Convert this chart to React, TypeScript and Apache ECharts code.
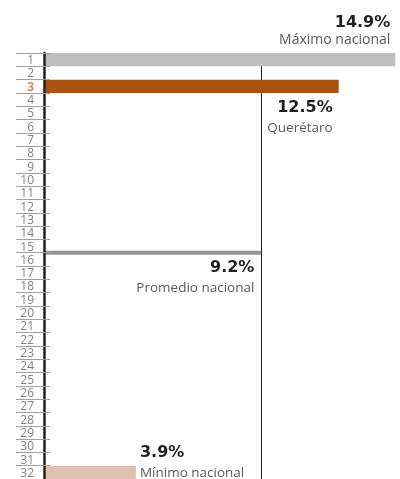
import React, { useEffect, useRef } from "react";
import * as echarts from "echarts";

const categories: string[] = Array.from({ length: 32 }, (_, i) => String(i + 1));
const highlightCategory = "3";
const maxValue = 14.9;
const maxLabel = "Máximo nacional";
const stateValue = 12.5;
const stateLabel = "Querétaro";
const avgValue = 9.2;
const avgLabel = "Promedio nacional";
const minValue = 3.9;
const minLabel = "Mínimo nacional";
const maxRank = "1";
const stateRank = "3";
const minRank = "32";
const avgBoundary = 15.5; // between rank 15 and 16

const FONT = "'Open Sans', 'Noto Sans', sans-serif";
const BOLD_FONT = "'DejaVu Sans', 'Open Sans', sans-serif";

export default function App() {
  const ref = useRef<HTMLDivElement>(null);
  useEffect(() => {
    if (!ref.current) return;
    const chart = echarts.init(ref.current, undefined, { renderer: "svg" });
    const fmt = (v: number) => v.toFixed(1) + "%";
    const rich = {
      b: { fontFamily: BOLD_FONT, fontWeight: "bold", fontSize: 16, color: "#231f20", lineHeight: 20 },
      n: { fontFamily: FONT, fontSize: 13.5, color: "#58595b", lineHeight: 21 },
    };
    const barData = categories.map((c) => {
      if (c === maxRank)
        return {
          value: maxValue,
          itemStyle: { color: "#bcbec0" },
          label: {
            show: true,
            position: ["100%", "0%"],
            align: "right",
            verticalAlign: "bottom",
            offset: [-5, -7],
            formatter: `{b|${fmt(maxValue)}}\n{n|${maxLabel}}`,
            rich: {
              b: { ...rich.b, lineHeight: 17 },
              n: { ...rich.n, fontSize: 14, lineHeight: 16 },
            },
          },
        };
      if (c === stateRank)
        return {
          value: stateValue,
          itemStyle: { color: "#aa5310" },
          label: {
            show: true,
            position: ["100%", "100%"],
            align: "right",
            verticalAlign: "top",
            offset: [-6, 4],
            formatter: `{b|${fmt(stateValue)}}\n{n|${stateLabel}}`,
            rich,
          },
        };
      if (c === minRank)
        return {
          value: minValue,
          itemStyle: { color: "#e0c1b1" },
          label: {
            show: true,
            position: ["100%", "100%"],
            align: "left",
            verticalAlign: "bottom",
            offset: [4, 3],
            formatter: `{b|${fmt(minValue)}}\n{n|${minLabel}}`,
            rich,
          },
        };
      return { value: null as any };
    });

    chart.setOption({
      animation: false,
      grid: { left: 44, right: 0, top: 53, bottom: -2, containLabel: false },
      xAxis: { type: "value", min: 0, max: 15.1, show: false },
      yAxis: [
        {
          type: "category",
          data: categories,
          inverse: true,
          position: "left",
          z: 20,
          axisLine: { show: true, lineStyle: { color: "#231f20", width: 2.5 } },
          axisTick: { show: true, interval: 0, inside: false, length: 28, lineStyle: { color: "#9d9fa2", width: 1 } },
          axisLabel: {
            interval: 0,
            margin: 10,
            fontFamily: FONT,
            fontSize: 12,
            lineHeight: 12,
            color: "#808285",
            formatter: (v: string) => (v === highlightCategory ? `{h|${v}}` : v),
            rich: { h: { fontFamily: FONT, fontSize: 12, lineHeight: 12, fontWeight: "bold", color: "#d4886a" } },
          },
        },
        {
          type: "category",
          data: categories,
          inverse: true,
          position: "left",
          z: 20,
          axisLine: { show: false },
          axisTick: { show: true, interval: 0, inside: true, length: 6, lineStyle: { color: "#9d9fa2", width: 1 } },
          axisLabel: { show: false },
        },
        {
          type: "value",
          min: 0.5,
          max: 32.5,
          inverse: true,
          show: false,
        },
      ],
      series: [
        {
          type: "bar",
          yAxisIndex: 0,
          data: barData,
          barWidth: "100%",
          barGap: "-100%",
          z: 10,
          markLine: {
            z: 1,
            silent: true,
            symbol: "none",
            label: { show: false },
            lineStyle: { color: "#231f20", width: 1, type: "solid" },
            data: [{ xAxis: avgValue }],
          },
        },
        {
          type: "line",
          yAxisIndex: 2,
          z: 8,
          symbol: "circle",
          symbolSize: 1,
          showSymbol: true,
          itemStyle: { color: "rgba(0,0,0,0)" },
          lineStyle: { color: "#939598", width: 4, cap: "butt" },
          data: [
            { value: [0, avgBoundary] },
            {
              value: [avgValue, avgBoundary],
              label: {
                show: true,
                position: [0, 0],
                align: "right",
                verticalAlign: "top",
                offset: [-6, 4],
                formatter: `{b|${fmt(avgValue)}}\n{n|${avgLabel}}`,
                rich,
              },
            },
          ],
        },
      ],
    });
    return () => chart.dispose();
  }, []);
  return (
    <div
      ref={ref}
      style={{ position: "fixed", left: 0, top: 0, width: 400, height: 479 }}
    />
  );
}
